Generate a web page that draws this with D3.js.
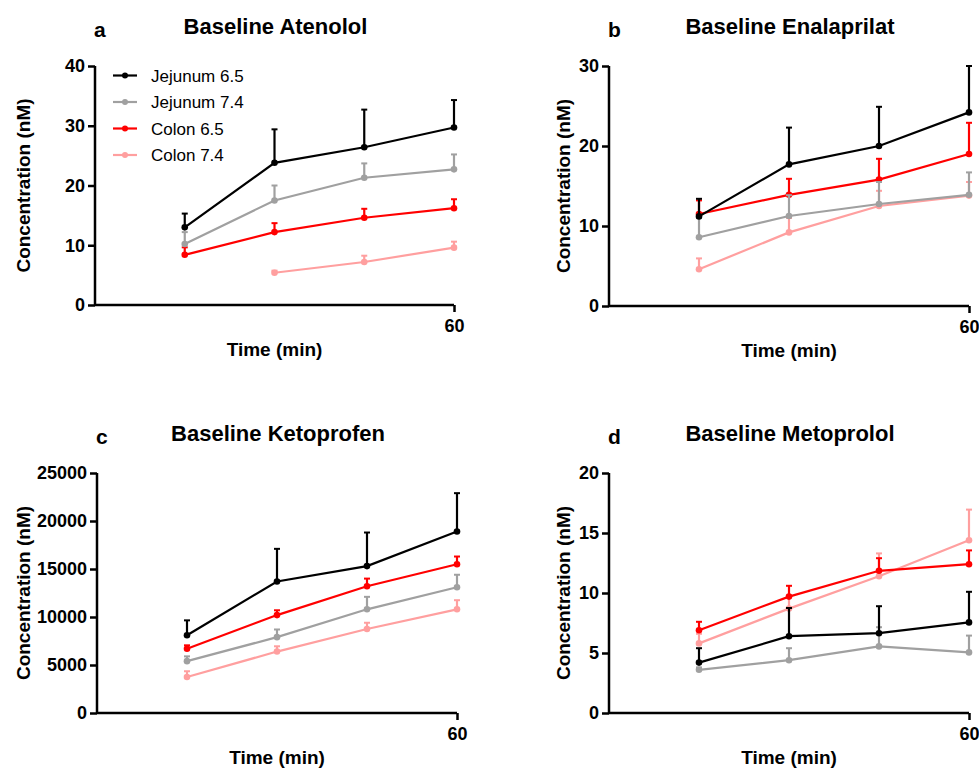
<!DOCTYPE html>
<html>
<head>
<meta charset="utf-8">
<script src="https://cdn.jsdelivr.net/npm/d3@7"></script>
<style>
  html, body { margin: 0; padding: 0; background: #fff; }
  svg { display: block; }
  text { font-family: "Liberation Sans", Arial, sans-serif; }
</style>
</head>
<body>
<svg id="chart" width="979" height="772"></svg>
<script>
// ---- data ----
const times = [15, 30, 45, 60];
const seriesNames = ["Jejunum 6.5", "Jejunum 7.4", "Colon 6.5", "Colon 7.4"];
const seriesColors = ["#000000", "#a0a0a0", "#ff0000", "#ff9f9f"];

const panelLetters = ["a", "b", "c", "d"];
const panelTitles = ["Baseline Atenolol", "Baseline Enalaprilat", "Baseline Ketoprofen", "Baseline Metoprolol"];
const yMax = [40, 30, 25000, 20];
const yTicks = [[0, 10, 20, 30, 40], [0, 10, 20, 30], [0, 5000, 10000, 15000, 20000, 25000], [0, 5, 10, 15, 20]];
const xTicks = [60];

// means per series (rows follow seriesNames), columns follow times
const atenololMean = [[13.0, 23.8, 26.4, 29.7], [10.2, 17.5, 21.3, 22.7], [8.4, 12.2, 14.6, 16.2], [null, 5.4, 7.2, 9.6]];
const atenololSD   = [[2.3, 5.6, 6.3, 4.6], [2.0, 2.5, 2.4, 2.5], [1.25, 1.5, 1.5, 1.5], [null, 0.35, 1.05, 1.0]];

const enalaprilatMean = [[11.2, 17.7, 20.0, 24.2], [8.6, 11.25, 12.75, 13.9], [11.5, 13.9, 15.8, 19.0], [4.6, 9.2, 12.5, 13.8]];
const enalaprilatSD   = [[2.2, 4.6, 4.9, 5.8], [2.4, 2.6, 2.75, 2.8], [1.7, 2.0, 2.6, 3.9], [1.35, 1.8, 1.9, 1.7]];

const ketoprofenMean = [[8100, 13700, 15300, 18900], [5400, 7900, 10800, 13100], [6700, 10200, 13200, 15500], [3750, 6400, 8750, 10800]];
const ketoprofenSD   = [[1550, 3400, 3500, 4000], [500, 800, 1300, 1300], [350, 500, 800, 800], [600, 550, 650, 950]];

const metoprololMean = [[4.2, 6.4, 6.65, 7.55], [3.6, 4.4, 5.55, 5.05], [6.9, 9.7, 11.85, 12.4], [5.8, 8.7, 11.4, 14.4]];
const metoprololSD   = [[1.2, 2.35, 2.25, 2.55], [0.2, 1.0, 1.6, 1.4], [0.7, 0.9, 1.05, 1.15], [0.8, 1.0, 1.9, 2.55]];

const allMeans = [atenololMean, enalaprilatMean, ketoprofenMean, metoprololMean];
const allSDs = [atenololSD, enalaprilatSD, ketoprofenSD, metoprololSD];

// ---- layout ----
const panels = [
  { left: 95, top: 66, right: 454, bottom: 305, labelX: 30 },
  { left: 609, top: 66, right: 969, bottom: 306, labelX: 570 },
  { left: 97, top: 473, right: 457, bottom: 713, labelX: 30 },
  { left: 609, top: 473, right: 969, bottom: 713, labelX: 570 }
];

const svg = d3.select("#chart");

panels.forEach((p, pi) => {
  const g = svg.append("g");
  const x = d3.scaleLinear().domain([0, 60]).range([p.left, p.right]);
  const y = d3.scaleLinear().domain([0, yMax[pi]]).range([p.bottom, p.top]);

  // title and letter
  const cx = (p.left + p.right) / 2;
  g.append("text").attr("x", cx + 1).attr("y", p.top - 32)
    .attr("text-anchor", "middle").attr("font-size", 22).attr("font-weight", "bold")
    .text(panelTitles[pi]);
  g.append("text").attr("x", p.left - 1).attr("y", p.top - 29)
    .attr("font-size", 21).attr("font-weight", "bold")
    .text(panelLetters[pi]);

  // axes
  const yAxis = d3.axisLeft(y).tickValues(yTicks[pi]).tickSize(7).tickPadding(3).tickFormat(d3.format("d"));
  const ya = g.append("g").attr("transform", `translate(${p.left},0)`).call(yAxis);
  const xAxis = d3.axisBottom(x).tickValues(xTicks).tickSize(7).tickPadding(7).tickFormat(d3.format("d"));
  const xa = g.append("g").attr("transform", `translate(0,${p.bottom})`).call(xAxis);
  [ya, xa].forEach(a => {
    a.select(".domain").attr("stroke", "#000").attr("stroke-width", 2.5);
    a.selectAll(".tick line").attr("stroke", "#000").attr("stroke-width", 2.5);
    a.selectAll(".tick text").attr("font-size", 18).attr("font-weight", "bold").attr("fill", "#000")
      .attr("font-family", "'Liberation Sans', Arial, sans-serif");
  });
  // remove outer-tick stubs so axes form a clean L
  ya.select(".domain").attr("d", `M0,${p.top}V${p.bottom}`);
  xa.select(".domain").attr("d", `M${p.left},0H${p.right}`);

  // axis labels
  g.append("text").attr("transform", `translate(${p.labelX},${(p.top + p.bottom) / 2}) rotate(-90)`)
    .attr("text-anchor", "middle").attr("font-size", 19).attr("font-weight", "bold")
    .text("Concentration (nM)");
  g.append("text").attr("x", cx).attr("y", p.bottom + 51)
    .attr("text-anchor", "middle").attr("font-size", 19).attr("font-weight", "bold")
    .text("Time (min)");

  // series, drawn so Jejunum 6.5 ends on top
  const means = allMeans[pi], sds = allSDs[pi];
  const order = [3, 2, 1, 0];
  order.forEach(si => {
    const col = seriesColors[si];
    const pts = times.map((t, i) => ({ t, m: means[si][i], s: sds[si][i] }));
    const sg = g.append("g");
    const line = d3.line().defined(d => d.m != null).x(d => x(d.t)).y(d => y(d.m));
    sg.append("path").datum(pts).attr("d", line).attr("fill", "none")
      .attr("stroke", col).attr("stroke-width", 2.2);
    const valid = pts.filter(d => d.m != null);
    sg.selectAll("line.err").data(valid).enter().append("line")
      .attr("x1", d => x(d.t)).attr("x2", d => x(d.t))
      .attr("y1", d => y(d.m)).attr("y2", d => y(d.m + d.s))
      .attr("stroke", col).attr("stroke-width", 2.2);
    sg.selectAll("line.cap").data(valid).enter().append("line")
      .attr("x1", d => x(d.t) - 3).attr("x2", d => x(d.t) + 3)
      .attr("y1", d => y(d.m + d.s)).attr("y2", d => y(d.m + d.s))
      .attr("stroke", col).attr("stroke-width", 2);
    sg.selectAll("circle").data(valid).enter().append("circle")
      .attr("cx", d => x(d.t)).attr("cy", d => y(d.m)).attr("r", 3.3).attr("fill", col);
  });

  // legend only in panel a
  if (pi === 0) {
    const lg = g.append("g");
    seriesNames.forEach((name, si) => {
      const ly = 75.5 + si * 26.5;
      lg.append("line").attr("x1", 113).attr("x2", 137).attr("y1", ly).attr("y2", ly)
        .attr("stroke", seriesColors[si]).attr("stroke-width", 2.2);
      lg.append("circle").attr("cx", 125).attr("cy", ly).attr("r", 3).attr("fill", seriesColors[si]);
      lg.append("text").attr("x", 151).attr("y", ly + 6).attr("font-size", 17).text(name);
    });
  }
});
</script>
</body>
</html>
